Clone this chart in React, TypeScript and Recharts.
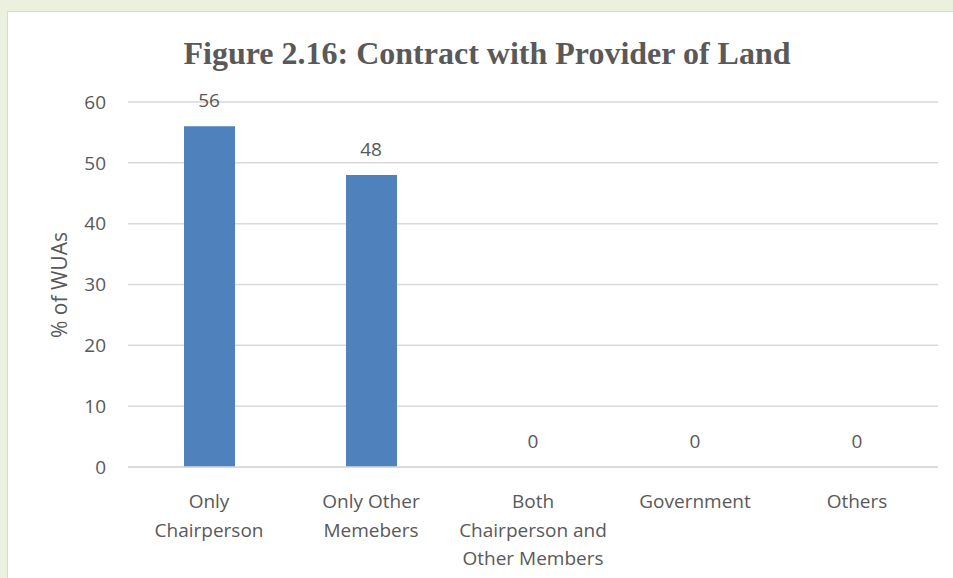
import React from 'react';
import { ComposedChart, Bar, Line, XAxis, YAxis, CartesianGrid, LabelList } from 'recharts';

const categories = ['Only Chairperson', 'Only Other Memebers', 'Both Chairperson and Other Members', 'Government', 'Others'];
const tickLines = [
  ['Only', 'Chairperson'],
  ['Only Other', 'Memebers'],
  ['Both', 'Chairperson and', 'Other Members'],
  ['Government'],
  ['Others']
];
const values = [56, 48, 0, 0, 0];
const yTicks = [0, 10, 20, 30, 40, 50, 60];

const data = categories.map((name, i) => ({ name, value: values[i] }));

const TEXT = '#595959';
const FONT = '"Open Sans", sans-serif';

function CategoryTick(props: any) {
  const { x, y, index } = props;
  const lines = tickLines[index] || [];
  return (
    <text x={x} y={y} textAnchor="middle" fill={TEXT} fontSize={19} fontFamily={FONT}>
      {lines.map((l, i) => (
        <tspan key={i} x={x} dy={i === 0 ? 33 : 28.5}>{l}</tspan>
      ))}
    </text>
  );
}

export default function App() {
  return (
    <div style={{ position: 'relative', width: 953, height: 578, background: '#ebf1de', overflow: 'hidden' }}>
      <style>{'body{margin:0}'}</style>
      <div style={{ position: 'absolute', left: 7, top: 11, width: 980, height: 600, background: '#fff', border: '1px solid #d9d9d9' }} />
      <div style={{
        position: 'absolute', left: 0, width: 974, top: 35, textAlign: 'center',
        fontFamily: '"Liberation Serif", serif', fontWeight: 'bold', fontSize: 32, color: TEXT, lineHeight: '36px'
      }}>
        Figure 2.16: Contract with Provider of Land
      </div>
      <div style={{
        position: 'absolute', left: 59, top: 285, transform: 'translate(-50%, -50%) rotate(-90deg)',
        whiteSpace: 'nowrap', fontFamily: FONT, fontSize: 21, color: TEXT
      }}>
        % of WUAs
      </div>
      <div style={{ position: 'absolute', left: 0, top: 0 }}>
        <ComposedChart width={953} height={578} data={data} margin={{ top: 102, right: 15, left: 68, bottom: 11 }}>
          <CartesianGrid vertical={false} stroke="#d9d9d9" strokeWidth={1.5} />
          <XAxis
            dataKey="name"
            tick={<CategoryTick />}
            tickLine={false}
            axisLine={{ stroke: '#d9d9d9', strokeWidth: 1.5 }}
            height={100}
            interval={0}
          />
          <YAxis
            domain={[0, 60]}
            ticks={yTicks}
            width={60}
            axisLine={false}
            tickLine={false}
            tickSize={0}
            tickMargin={22}
            tick={{ fill: TEXT, fontSize: 19, fontFamily: FONT }}
          />
          <Bar dataKey="value" fill="#4f81bd" barSize={51} isAnimationActive={false} />
          <Line dataKey="value" stroke="none" dot={false} activeDot={false} isAnimationActive={false}>
            <LabelList dataKey="value" position="top" offset={19} fill={TEXT} fontSize={19} fontFamily={FONT} />
          </Line>
        </ComposedChart>
      </div>
    </div>
  );
}
